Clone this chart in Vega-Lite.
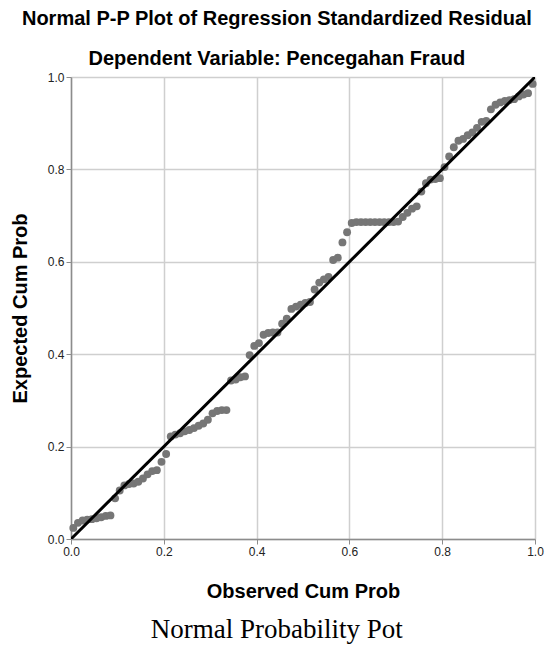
{
  "$schema": "https://vega.github.io/schema/vega-lite/v6.json",
  "padding": {"left": 10, "top": 9, "right": 2, "bottom": 5},
  "background": "white",
  "datasets": {
    "pts": [
      {"obs":0.005,"exp":0.024},{"obs":0.015,"exp":0.035},{"obs":0.025,"exp":0.040},{"obs":0.035,"exp":0.042},{"obs":0.045,"exp":0.043},
      {"obs":0.055,"exp":0.045},{"obs":0.065,"exp":0.047},{"obs":0.075,"exp":0.050},{"obs":0.085,"exp":0.051},{"obs":0.095,"exp":0.088},
      {"obs":0.105,"exp":0.105},{"obs":0.115,"exp":0.116},{"obs":0.125,"exp":0.119},{"obs":0.135,"exp":0.120},{"obs":0.145,"exp":0.124},
      {"obs":0.155,"exp":0.131},{"obs":0.165,"exp":0.140},{"obs":0.175,"exp":0.147},{"obs":0.185,"exp":0.149},{"obs":0.195,"exp":0.167},
      {"obs":0.205,"exp":0.184},{"obs":0.215,"exp":0.222},{"obs":0.225,"exp":0.226},{"obs":0.235,"exp":0.229},{"obs":0.245,"exp":0.233},
      {"obs":0.255,"exp":0.236},{"obs":0.265,"exp":0.240},{"obs":0.275,"exp":0.245},{"obs":0.285,"exp":0.250},{"obs":0.295,"exp":0.258},
      {"obs":0.305,"exp":0.272},{"obs":0.315,"exp":0.277},{"obs":0.325,"exp":0.279},{"obs":0.335,"exp":0.279},{"obs":0.345,"exp":0.343},
      {"obs":0.355,"exp":0.345},{"obs":0.365,"exp":0.350},{"obs":0.375,"exp":0.352},{"obs":0.385,"exp":0.398},{"obs":0.395,"exp":0.418},
      {"obs":0.405,"exp":0.424},{"obs":0.415,"exp":0.442},{"obs":0.425,"exp":0.446},{"obs":0.435,"exp":0.447},{"obs":0.445,"exp":0.447},
      {"obs":0.455,"exp":0.466},{"obs":0.465,"exp":0.477},{"obs":0.475,"exp":0.498},{"obs":0.485,"exp":0.503},{"obs":0.495,"exp":0.507},
      {"obs":0.505,"exp":0.511},{"obs":0.515,"exp":0.513},{"obs":0.525,"exp":0.540},{"obs":0.535,"exp":0.555},{"obs":0.545,"exp":0.562},
      {"obs":0.555,"exp":0.567},{"obs":0.565,"exp":0.604},{"obs":0.575,"exp":0.609},{"obs":0.585,"exp":0.642},{"obs":0.595,"exp":0.664},
      {"obs":0.605,"exp":0.684},{"obs":0.615,"exp":0.686},{"obs":0.625,"exp":0.686},{"obs":0.635,"exp":0.686},{"obs":0.645,"exp":0.686},
      {"obs":0.655,"exp":0.686},{"obs":0.665,"exp":0.686},{"obs":0.675,"exp":0.686},{"obs":0.685,"exp":0.686},{"obs":0.695,"exp":0.686},
      {"obs":0.705,"exp":0.687},{"obs":0.715,"exp":0.697},{"obs":0.725,"exp":0.706},{"obs":0.735,"exp":0.715},{"obs":0.745,"exp":0.720},
      {"obs":0.755,"exp":0.752},{"obs":0.765,"exp":0.770},{"obs":0.775,"exp":0.778},{"obs":0.785,"exp":0.779},{"obs":0.795,"exp":0.781},
      {"obs":0.805,"exp":0.805},{"obs":0.815,"exp":0.828},{"obs":0.825,"exp":0.848},{"obs":0.835,"exp":0.862},{"obs":0.845,"exp":0.866},
      {"obs":0.855,"exp":0.874},{"obs":0.865,"exp":0.880},{"obs":0.875,"exp":0.890},{"obs":0.885,"exp":0.903},{"obs":0.895,"exp":0.905},
      {"obs":0.905,"exp":0.930},{"obs":0.915,"exp":0.940},{"obs":0.925,"exp":0.945},{"obs":0.935,"exp":0.948},{"obs":0.945,"exp":0.950},
      {"obs":0.955,"exp":0.952},{"obs":0.965,"exp":0.958},{"obs":0.975,"exp":0.962},{"obs":0.985,"exp":0.965},{"obs":0.995,"exp":0.985}
    ],
    "diag": [{"obs":0,"exp":0},{"obs":1,"exp":1}]
  },
  "title": {
    "text": "Normal Probability Pot",
    "orient": "bottom",
    "anchor": "middle",
    "frame": "bounds",
    "font": "Liberation Serif",
    "fontSize": 27,
    "fontWeight": "normal",
    "color": "black",
    "offset": 16
  },
  "vconcat": [
    {
      "width": 464,
      "height": 462,
      "title": {
        "text": "Normal P-P Plot of Regression Standardized Residual",
        "subtitle": "Dependent Variable: Pencegahan Fraud",
        "anchor": "middle",
        "frame": "bounds",
        "font": "Liberation Sans",
        "fontSize": 20,
        "fontWeight": "bold",
        "color": "black",
        "subtitleFont": "Liberation Sans",
        "subtitleFontSize": 20,
        "subtitleFontWeight": "bold",
        "subtitleColor": "black",
        "subtitlePadding": 20,
        "offset": 2
      },
      "layer": [
        {
          "data": {"name": "pts"},
          "mark": {"type": "circle", "size": 62, "color": "#767676", "opacity": 1},
          "encoding": {
            "x": {"field": "obs", "type": "quantitative", "scale": {"domain": [0, 1], "nice": false}, "title": "Observed Cum Prob",
                  "axis": {"values": [0, 0.2, 0.4, 0.6, 0.8, 1], "format": ".1f", "titlePadding": 24, "labelFlush": false}},
            "y": {"field": "exp", "type": "quantitative", "scale": {"domain": [0, 1], "nice": false}, "title": "Expected Cum Prob",
                  "axis": {"values": [0, 0.2, 0.4, 0.6, 0.8, 1], "format": ".1f", "titlePadding": 17, "labelFlush": false}}
          }
        },
        {
          "data": {"name": "diag"},
          "mark": {"type": "line", "color": "black", "strokeWidth": 3, "clip": true},
          "encoding": {
            "x": {"field": "obs", "type": "quantitative"},
            "y": {"field": "exp", "type": "quantitative"}
          }
        }
      ]
    }
  ],
  "config": {
    "view": {"stroke": null},
    "axis": {
      "grid": true,
      "gridColor": "#cfcfcf",
      "gridWidth": 1.5,
      "domainColor": "#8c8c8c",
      "domainWidth": 1.5,
      "tickColor": "#8c8c8c",
      "tickSize": 5,
      "labelFont": "Liberation Sans",
      "labelFontSize": 12,
      "labelColor": "#222222",
      "labelPadding": 2,
      "titleFont": "Liberation Sans",
      "titleFontSize": 20,
      "titleFontWeight": "bold",
      "titleColor": "black"
    }
  }
}
